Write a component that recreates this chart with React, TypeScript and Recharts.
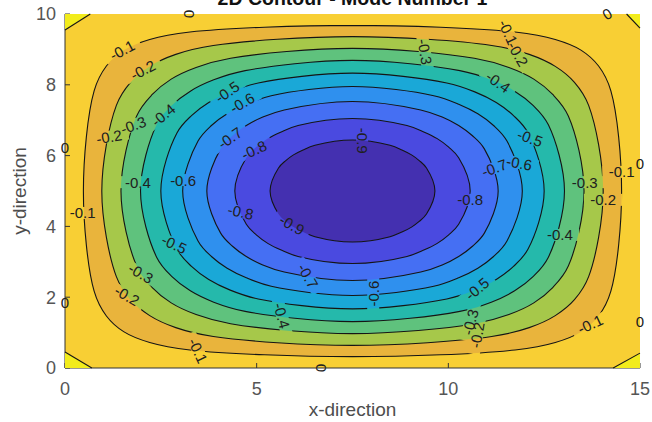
import React from "react";
import { ScatterChart, Scatter, XAxis, YAxis, CartesianGrid, Label } from "recharts";

const xTicks = [0, 5, 10, 15];
const yTicks = [0, 2, 4, 6, 8, 10];

// fill of each band, outermost (0 to -0.1) first, innermost (< -0.9) last
const bandColors = ["#f8cf34", "#e9b43c", "#a6c84a", "#5fc27d", "#25b9ab", "#1aa8d7", "#2f90ee", "#456ff3", "#4a4ae0", "#4430b0"];
const positiveColor = "#f2ec1c";

// contour lines, going round anticlockwise from the top
const levelM01 = [[7.5,9.68],[3.26,9.49],[2.21,9.28],[1.54,8.98],[1.08,8.53],[0.76,7.83],[0.48,5],[0.76,2.17],[1.08,1.47],[1.54,1.02],[2.21,0.72],[3.26,0.51],[7.5,0.32],[11.74,0.51],[12.79,0.72],[13.46,1.02],[13.92,1.47],[14.24,2.17],[14.52,5],[14.24,7.83],[13.92,8.53],[13.46,8.98],[12.79,9.28],[11.74,9.49]];
const levelM02 = [[7.5,9.36],[3.87,9.11],[2.89,8.86],[2.21,8.52],[1.71,8.07],[1.34,7.42],[0.96,5],[1.34,2.58],[1.71,1.93],[2.21,1.48],[2.89,1.14],[3.87,0.89],[7.5,0.64],[11.13,0.89],[12.11,1.14],[12.79,1.48],[13.29,1.93],[13.66,2.58],[14.04,5],[13.66,7.42],[13.29,8.07],[12.79,8.52],[12.11,8.86],[11.13,9.11]];
const levelM03 = [[7.5,9.03],[4.32,8.75],[3.42,8.49],[2.77,8.16],[2.27,7.72],[1.87,7.12],[1.46,5],[1.87,2.88],[2.27,2.28],[2.77,1.84],[3.42,1.51],[4.32,1.25],[7.5,0.97],[10.68,1.25],[11.58,1.51],[12.23,1.84],[12.73,2.28],[13.13,2.88],[13.54,5],[13.13,7.12],[12.73,7.72],[12.23,8.16],[11.58,8.49],[10.68,8.75]];
const levelM04 = [[7.5,8.69],[4.7,8.4],[3.88,8.14],[3.27,7.82],[2.79,7.42],[2.39,6.87],[1.97,5],[2.39,3.13],[2.79,2.58],[3.27,2.18],[3.88,1.86],[4.7,1.6],[7.5,1.31],[10.3,1.6],[11.12,1.86],[11.73,2.18],[12.21,2.58],[12.61,3.13],[13.03,5],[12.61,6.87],[12.21,7.42],[11.73,7.82],[11.12,8.14],[10.3,8.4]];
const levelM05 = [[7.5,8.33],[5.04,8.05],[4.31,7.8],[3.75,7.5],[3.3,7.13],[2.92,6.64],[2.5,5],[2.92,3.36],[3.3,2.87],[3.75,2.5],[4.31,2.2],[5.04,1.95],[7.5,1.67],[9.96,1.95],[10.69,2.2],[11.25,2.5],[11.7,2.87],[12.08,3.36],[12.5,5],[12.08,6.64],[11.7,7.13],[11.25,7.5],[10.69,7.8],[9.96,8.05]];
const levelM06 = [[7.5,7.95],[5.38,7.69],[4.73,7.45],[4.23,7.18],[3.82,6.85],[3.47,6.41],[3.07,5],[3.47,3.59],[3.82,3.15],[4.23,2.82],[4.73,2.55],[5.38,2.31],[7.5,2.05],[9.62,2.31],[10.27,2.55],[10.77,2.82],[11.18,3.15],[11.53,3.59],[11.93,5],[11.53,6.41],[11.18,6.85],[10.77,7.18],[10.27,7.45],[9.62,7.69]];
const levelM07 = [[7.5,7.53],[5.72,7.29],[5.16,7.09],[4.73,6.85],[4.37,6.56],[4.06,6.19],[3.7,5],[4.06,3.81],[4.37,3.44],[4.73,3.15],[5.16,2.91],[5.72,2.71],[7.5,2.47],[9.28,2.71],[9.84,2.91],[10.27,3.15],[10.63,3.44],[10.94,3.81],[11.3,5],[10.94,6.19],[10.63,6.56],[10.27,6.85],[9.84,7.09],[9.28,7.29]];
const levelM08 = [[7.5,7.05],[6.08,6.85],[5.64,6.67],[5.29,6.48],[4.99,6.24],[4.73,5.94],[4.43,5],[4.73,4.06],[4.99,3.76],[5.29,3.52],[5.64,3.33],[6.08,3.15],[7.5,2.95],[8.92,3.15],[9.36,3.33],[9.71,3.52],[10.01,3.76],[10.27,4.06],[10.57,5],[10.27,5.94],[10.01,6.24],[9.71,6.48],[9.36,6.67],[8.92,6.85]];
const levelM09 = [[7.5,6.44],[6.52,6.29],[6.21,6.16],[5.96,6.02],[5.76,5.86],[5.57,5.65],[5.35,5],[5.57,4.35],[5.76,4.14],[5.96,3.98],[6.21,3.84],[6.52,3.71],[7.5,3.56],[8.48,3.71],[8.79,3.84],[9.04,3.98],[9.24,4.14],[9.43,4.35],[9.65,5],[9.43,5.65],[9.24,5.86],[9.04,6.02],[8.79,6.16],[8.48,6.29]];
const contourLevels = [levelM01, levelM02, levelM03, levelM04, levelM05, levelM06, levelM07, levelM08, levelM09];

// small positive patches in the corners (corner point first)
const cornerBL = [[0,0],[0,0.45],[0.7,0]];
const cornerTL = [[0,10],[0,9.55],[0.66,10]];
const cornerTR = [[15,10],[14.65,10],[15,9.6]];
const cornerBR = [[15,0],[14.3,0],[15,0.42]];
const corners = [cornerBL, cornerTL, cornerTR, cornerBR];

const contourLabels = [
  { text: "-0.1", x: 1.49, y: 8.98, angle: -28 },
  { text: "-0.2", x: 2.03, y: 8.42, angle: -28 },
  { text: "-0.5", x: 4.23, y: 7.8, angle: -35 },
  { text: "-0.6", x: 4.62, y: 7.49, angle: -30 },
  { text: "-0.4", x: 2.56, y: 7.15, angle: -40 },
  { text: "-0.3", x: 1.78, y: 6.86, angle: -20 },
  { text: "-0.2", x: 1.15, y: 6.53, angle: -10 },
  { text: "-0.7", x: 4.3, y: 6.5, angle: -35 },
  { text: "-0.8", x: 4.93, y: 6.16, angle: -25 },
  { text: "-0.4", x: 1.9, y: 5.25, angle: 0 },
  { text: "-0.6", x: 3.08, y: 5.31, angle: 0 },
  { text: "-0.1", x: 0.46, y: 4.38, angle: 0 },
  { text: "-0.8", x: 4.58, y: 4.41, angle: 12 },
  { text: "-0.9", x: 5.92, y: 4.05, angle: 30 },
  { text: "-0.5", x: 2.85, y: 3.5, angle: 25 },
  { text: "-0.3", x: 1.98, y: 2.68, angle: 30 },
  { text: "-0.2", x: 1.62, y: 2.05, angle: 30 },
  { text: "-0.1", x: 3.47, y: 0.49, angle: 65 },
  { text: "-0.7", x: 6.34, y: 2.6, angle: 60 },
  { text: "-0.4", x: 5.66, y: 1.48, angle: 75 },
  { text: "-0.6", x: 8.04, y: 2.1, angle: -90 },
  { text: "-0.5", x: 10.75, y: 2.24, angle: -40 },
  { text: "-0.3", x: 10.57, y: 1.3, angle: -75 },
  { text: "-0.2", x: 10.75, y: 0.93, angle: -80 },
  { text: "-0.1", x: 13.7, y: 1.24, angle: -25 },
  { text: "-0.4", x: 12.91, y: 3.76, angle: 0 },
  { text: "-0.8", x: 10.57, y: 4.75, angle: 0 },
  { text: "-0.2", x: 14.04, y: 4.75, angle: 0 },
  { text: "-0.3", x: 13.56, y: 5.25, angle: 0 },
  { text: "-0.1", x: 14.52, y: 5.54, angle: 0 },
  { text: "-0.7", x: 11.2, y: 5.65, angle: -20 },
  { text: "-0.6", x: 11.85, y: 5.79, angle: 10 },
  { text: "-0.5", x: 12.13, y: 6.5, angle: 20 },
  { text: "-0.4", x: 11.3, y: 8.08, angle: 35 },
  { text: "-0.1", x: 11.56, y: 9.49, angle: 65 },
  { text: "-0.2", x: 11.82, y: 8.87, angle: 60 },
  { text: "-0.3", x: 9.39, y: 8.93, angle: 80 },
  { text: "-0.9", x: 7.75, y: 6.42, angle: 90 },
];

const zeroLabels = [
  { text: "0", x: 3.26, y: 10, angle: 90 },
  { text: "0", x: 14.14, y: 10, angle: -30 },
  { text: "0", x: 0, y: 6.24, angle: 0 },
  { text: "0", x: 0, y: 1.84, angle: 0 },
  { text: "0", x: 6.7, y: 0, angle: 90 },
  { text: "0", x: 15, y: 5.79, angle: 0 },
  { text: "0", x: 15, y: 1.3, angle: 0 },
];

const FONT = "'Liberation Sans', Arial, sans-serif";
const LABEL_FONT = 15;
const CHART_W = 652;
const CHART_H = 422;

const toPoints = (arr: number[][]) => arr.map(([x, y]) => ({ x, y }));

// centripetal catmull-rom through the points, closed
function closedPath(pts: { x: number; y: number }[]) {
  const n = pts.length;
  let d = `M${pts[0].x},${pts[0].y}`;
  for (let i = 0; i < n; i++) {
    const p0 = pts[(i - 1 + n) % n], p1 = pts[i], p2 = pts[(i + 1) % n], p3 = pts[(i + 2) % n];
    const l01 = Math.hypot(p1.x - p0.x, p1.y - p0.y);
    const l12 = Math.hypot(p2.x - p1.x, p2.y - p1.y);
    const l23 = Math.hypot(p3.x - p2.x, p3.y - p2.y);
    const a01 = Math.sqrt(l01), a12 = Math.sqrt(l12), a23 = Math.sqrt(l23);
    let c1x = p1.x, c1y = p1.y, c2x = p2.x, c2y = p2.y;
    if (a01 > 1e-6) {
      const a = 2 * l01 + 3 * a01 * a12 + l12, m = 3 * a01 * (a01 + a12);
      c1x = (p1.x * a - p0.x * l12 + p2.x * l01) / m;
      c1y = (p1.y * a - p0.y * l12 + p2.y * l01) / m;
    }
    if (a23 > 1e-6) {
      const b = 2 * l23 + 3 * a23 * a12 + l12, m = 3 * a23 * (a23 + a12);
      c2x = (p2.x * b + p1.x * l23 - p3.x * l12) / m;
      c2y = (p2.y * b + p1.y * l23 - p3.y * l12) / m;
    }
    d += ` C${c1x},${c1y} ${c2x},${c2y} ${p2.x},${p2.y}`;
  }
  return d + "Z";
}

const noDot = () => <g />;

// filled band + its contour line, the line broken where labels sit
const contourLine = (fill: string) => (props: any) => {
  const d = closedPath(props.points);
  return (
    <g>
      <path d={d} fill={fill} stroke="none" />
      <path d={d} fill="none" stroke="#151515" strokeWidth={1.1} mask="url(#labelGaps)" />
    </g>
  );
};

const cornerShape = (props: any) => {
  const p = props.points;
  return (
    <g>
      <path d={`M${p[0].x},${p[0].y}L${p[1].x},${p[1].y}L${p[2].x},${p[2].y}Z`} fill={positiveColor} />
      <path d={`M${p[1].x},${p[1].y}L${p[2].x},${p[2].y}`} stroke="#151515" strokeWidth={1.1} fill="none" />
    </g>
  );
};

// mask with a hole at every inline label, built from the label points' pixel positions
const gapMask = (props: any) => (
  <mask id="labelGaps" maskUnits="userSpaceOnUse" x={0} y={0} width={CHART_W} height={CHART_H}>
    <rect x={0} y={0} width={CHART_W} height={CHART_H} fill="#fff" />
    {props.points.map((p: any, i: number) => {
      const d = contourLabels[i];
      const w = d.text.length * 0.56 * LABEL_FONT + 5;
      const h = LABEL_FONT * 0.8;
      return (
        <rect key={i} x={-w / 2} y={-h / 2} width={w} height={h} fill="#000"
          transform={`translate(${p.x},${p.y}) rotate(${d.angle})`} />
      );
    })}
  </mask>
);

const LabelText = (props: any) => {
  const { cx, cy } = props;
  const d = props.payload ?? props;
  return (
    <text x={cx} y={cy} transform={`rotate(${d.angle},${cx},${cy})`} textAnchor="middle" dominantBaseline="central"
      fontSize={LABEL_FONT} fill="#202020" fontFamily={FONT}>{d.text}</text>
  );
};

const YTitle = (props: any) => {
  const vb = props.viewBox;
  const x = vb.x + 19;
  const y = vb.y + vb.height / 2;
  return (
    <text x={x} y={y} transform={`rotate(-90,${x},${y})`} textAnchor="middle" dominantBaseline="central"
      fontSize={19} fill="#4d4d4d" fontFamily={FONT}>y-direction</text>
  );
};

const tickStyle = { fill: "#555", fontSize: 18, fontFamily: FONT };
const axisColor = "#333";

export default function App() {
  return (
    <div style={{ position: "absolute", left: 0, top: 0, width: CHART_W, height: CHART_H, background: "#fff" }}>
      <div style={{ position: "absolute", left: 52, top: -12, width: 601, textAlign: "center", fontSize: 19.5, lineHeight: "20px",
        fontWeight: 700, fontFamily: FONT, color: "#111" }}>
        2D Contour - Mode Number 1
      </div>
      <ScatterChart width={CHART_W} height={CHART_H} margin={{ top: 14, right: 12, bottom: 0, left: 0 }}>
        <CartesianGrid fill={bandColors[0]} horizontal={false} vertical={false} xAxisId="b" yAxisId="l" />
        <XAxis xAxisId="b" type="number" dataKey="x" domain={[0, 15]} ticks={xTicks} height={54}
          tickSize={-5} tickMargin={19} tick={tickStyle} stroke={axisColor} interval={0}>
          <Label value="x-direction" position="insideBottom" offset={6} fontSize={19} fill="#4d4d4d" fontFamily={FONT} />
        </XAxis>
        <XAxis xAxisId="t" orientation="top" type="number" dataKey="x" domain={[0, 15]} ticks={xTicks} height={0}
          tickSize={-5} tickFormatter={() => ""} stroke={axisColor} interval={0} />
        <YAxis yAxisId="l" type="number" dataKey="y" domain={[0, 10]} ticks={yTicks} width={65}
          tickSize={-5} tickMargin={14} tick={tickStyle} stroke={axisColor} interval={0}>
          <Label content={YTitle} />
        </YAxis>
        <YAxis yAxisId="r" orientation="right" type="number" dataKey="y" domain={[0, 10]} ticks={yTicks} width={0}
          tickSize={-5} tickFormatter={() => ""} stroke={axisColor} interval={0} />
        {corners.map((c, i) => (
          <Scatter key={`corner-${i}`} data={toPoints(c)} xAxisId="b" yAxisId="l" shape={noDot} line={cornerShape}
            isAnimationActive={false} />
        ))}
        {contourLevels.map((lv, i) => (
          <Scatter key={`level-${i}`} data={toPoints(lv)} xAxisId="b" yAxisId="l" shape={noDot}
            line={contourLine(bandColors[i + 1])} isAnimationActive={false} />
        ))}
        <Scatter data={contourLabels} xAxisId="b" yAxisId="l" shape={LabelText} line={gapMask} isAnimationActive={false} />
        <Scatter data={zeroLabels} xAxisId="b" yAxisId="l" shape={LabelText} isAnimationActive={false} />
      </ScatterChart>
    </div>
  );
}
